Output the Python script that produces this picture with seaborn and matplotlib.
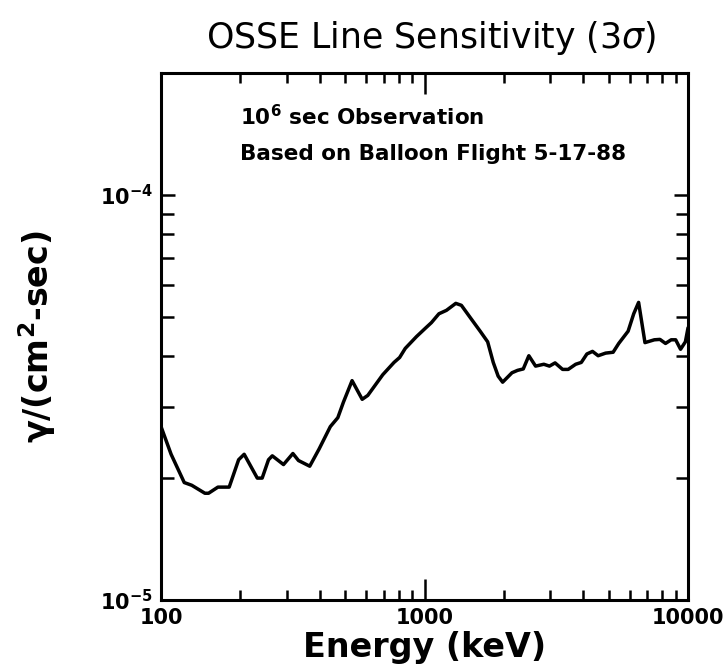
import numpy as np
import pandas as pd
import matplotlib
matplotlib.use("Agg")
import matplotlib.pyplot as plt
import seaborn as sns
from matplotlib.ticker import FixedLocator, FixedFormatter, LogLocator, NullFormatter

# wartości (energia w keV, czułość w gamma/(cm^2 s))
energy = [100, 109.2, 122.5, 130.8, 146.7, 151.5, 164.4, 181.4, 197.0, 206.8,
          231.9, 242.0, 255.8, 264.4, 291.6, 316.5, 332.4, 366.7, 398.0, 439.0,
          468.8, 492.3, 530.9, 580.0, 609.0, 694.3, 765.9, 804.5, 844.9, 932.0,
          1011.5, 1062, 1134, 1211, 1314, 1380, 1498, 1626, 1736, 1823,
          1903, 1979, 2147, 2255, 2370, 2488, 2639, 2836, 2979, 3129,
          3341, 3509, 3746, 3935, 4132, 4340, 4559, 4867, 5196, 5458,
          5924, 6221, 6493, 6864, 7449, 7823, 8214, 8630, 8977, 9367,
          9772, 10000]
sensitivity = [2.68e-5, 2.29e-5, 1.95e-5, 1.92e-5, 1.835e-5, 1.835e-5, 1.90e-5, 1.90e-5, 2.22e-5, 2.29e-5,
               2.00e-5, 2.00e-5, 2.22e-5, 2.27e-5, 2.16e-5, 2.30e-5, 2.21e-5, 2.14e-5, 2.36e-5, 2.68e-5,
               2.82e-5, 3.08e-5, 3.48e-5, 3.13e-5, 3.20e-5, 3.60e-5, 3.86e-5, 3.97e-5, 4.18e-5, 4.47e-5,
               4.70e-5, 4.84e-5, 5.09e-5, 5.19e-5, 5.40e-5, 5.34e-5, 4.96e-5, 4.61e-5, 4.34e-5, 3.86e-5,
               3.57e-5, 3.45e-5, 3.64e-5, 3.69e-5, 3.72e-5, 4.01e-5, 3.78e-5, 3.82e-5, 3.78e-5, 3.85e-5,
               3.71e-5, 3.71e-5, 3.82e-5, 3.86e-5, 4.05e-5, 4.11e-5, 4.01e-5, 4.07e-5, 4.09e-5, 4.30e-5,
               4.61e-5, 5.09e-5, 5.43e-5, 4.32e-5, 4.39e-5, 4.40e-5, 4.30e-5, 4.39e-5, 4.39e-5, 4.16e-5,
               4.34e-5, 4.70e-5]

x_ticks = [100, 1000, 10000]
x_tick_labels = ["100", "1000", "10000"]
y_ticks = [1e-5, 1e-4]
y_tick_labels = [r"$\mathbf{10^{-5}}$", r"$\mathbf{10^{-4}}$"]

df = pd.DataFrame({"energy": energy, "sens": sensitivity})

sns.set_style("ticks")
plt.rcParams["font.family"] = ["DejaVu Sans"]
plt.rcParams["text.color"] = "black"
plt.rcParams["axes.labelcolor"] = "black"
plt.rcParams["xtick.color"] = "black"
plt.rcParams["ytick.color"] = "black"

fig = plt.figure(figsize=(7.27, 6.67), dpi=100)
ax = fig.add_axes([0.2215, 0.1004, 0.7249, 0.7901])

sns.lineplot(data=df, x="energy", y="sens", ax=ax, color="black",
             linewidth=2.5, estimator=None)

ax.set_xscale("log")
ax.set_yscale("log")
ax.set_xlim(100, 10000)
ax.set_ylim(1e-5, 2e-4)

ax.xaxis.set_major_locator(FixedLocator(x_ticks))
ax.xaxis.set_major_formatter(FixedFormatter(x_tick_labels))
ax.xaxis.set_minor_locator(LogLocator(base=10, subs=np.arange(2, 10)))
ax.xaxis.set_minor_formatter(NullFormatter())
ax.yaxis.set_major_locator(FixedLocator(y_ticks))
ax.yaxis.set_major_formatter(FixedFormatter(y_tick_labels))
ax.yaxis.set_minor_locator(LogLocator(base=10, subs=np.arange(2, 10)))
ax.yaxis.set_minor_formatter(NullFormatter())

ax.tick_params(which="both", direction="in", top=True, right=True,
               bottom=True, left=True, width=1.8, color="black")
ax.tick_params(axis="x", which="major", length=15, labelsize=15, pad=6)
ax.tick_params(axis="x", which="minor", length=7)
ax.tick_params(axis="y", which="major", length=10, labelsize=15, pad=6)
ax.tick_params(axis="y", which="minor", length=9)
for lab in ax.get_xticklabels():
    lab.set_fontweight("bold")

for sp in ax.spines.values():
    sp.set_visible(True)
    sp.set_linewidth(2.2)
    sp.set_color("black")

ax.set_xlabel("Energy (keV)", fontsize=24, fontweight="bold", labelpad=2)
ax.set_ylabel(r"$\mathbf{\gamma}$/(cm$^\mathbf{2}$-sec)", fontsize=24,
              fontweight="bold", labelpad=30)

fig.text(0.593, 0.943, r"OSSE Line Sensitivity (3$\sigma$)", ha="center",
         va="center", fontsize=25)

ax.text(0.15, 0.918, r"10$^\mathbf{6}$ sec Observation", transform=ax.transAxes,
        fontsize=15.5, fontweight="bold", va="center", ha="left")
ax.text(0.15, 0.846, "Based on Balloon Flight 5-17-88", transform=ax.transAxes,
        fontsize=15.5, fontweight="bold", va="center", ha="left")

fig.savefig("out.png", dpi=100)
